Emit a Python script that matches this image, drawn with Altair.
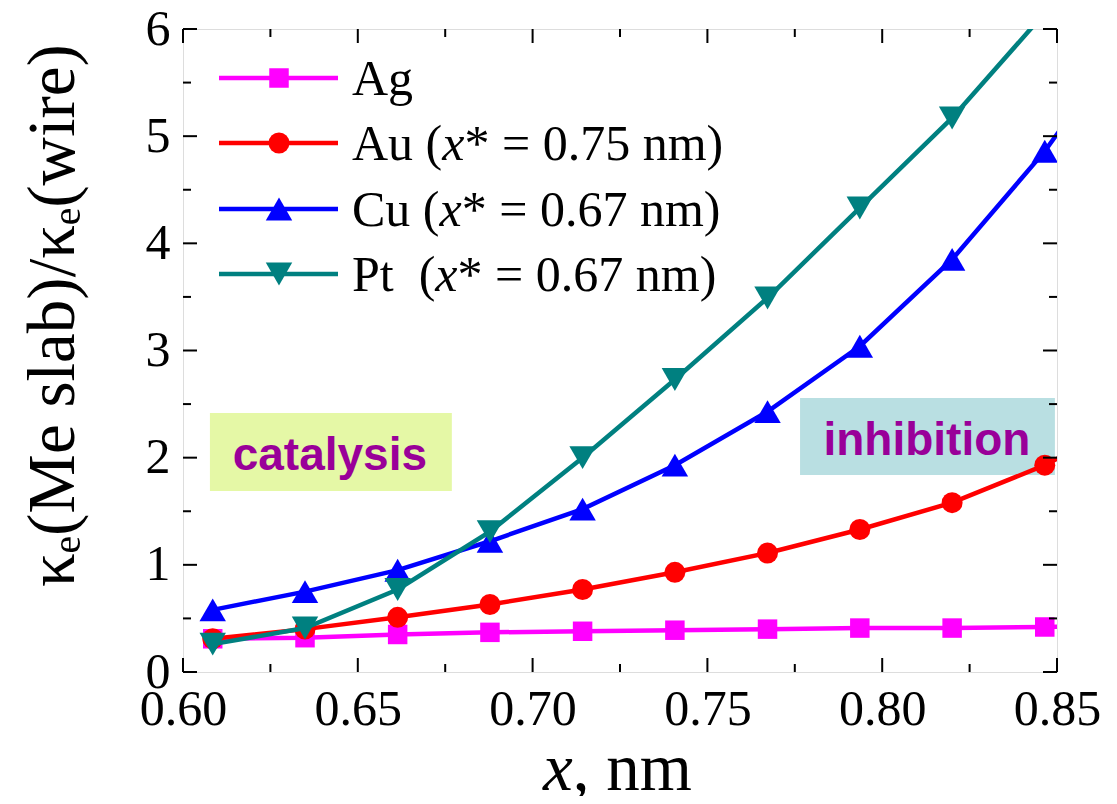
import altair as alt
import pandas as pd

# ---------------- data ----------------
series_names = ["Ag", "Au", "Cu", "Pt"]
series_colors = ["#ff00ff", "#ff0000", "#0000ff", "#008080"]
series_shapes = ["square", "circle", "triangle-up", "triangle-down"]
marker_sizes = [380, 440, 700, 700]

x_nm = [0.6085, 0.6349, 0.6614, 0.6878, 0.7143, 0.7407, 0.7672, 0.7936, 0.8200, 0.8465, 0.8729]
ag = [0.31, 0.32, 0.35, 0.37, 0.38, 0.39, 0.40, 0.41, 0.41, 0.42, 0.43]
au = [0.31, 0.40, 0.51, 0.63, 0.77, 0.93, 1.11, 1.33, 1.58, 1.93, 2.38]
cu = [0.58, 0.75, 0.95, 1.22, 1.52, 1.93, 2.43, 3.04, 3.85, 4.86, 6.05]
pt = [0.26, 0.41, 0.77, 1.31, 2.00, 2.73, 3.49, 4.33, 5.17, 6.15, 7.30]

x_major = [0.60, 0.65, 0.70, 0.75, 0.80, 0.85]
x_minor = [0.625, 0.675, 0.725, 0.775, 0.825]
y_major = [0, 1, 2, 3, 4, 5, 6]
y_minor = [0.5, 1.5, 2.5, 3.5, 4.5, 5.5]

legend_rest = ["", "* = 0.75 nm)", "* = 0.67 nm)", "* = 0.67 nm)"]
legend_head = ["Ag", "Au (", "Cu (", "Pt\u00a0 ("]

region_labels = ["catalysis", "inhibition"]

# ---------------- layout constants ----------------
W, H = 874, 643
XMIN, XMAX = 0.60, 0.85
PX_PER_X = W / (XMAX - XMIN)
PX_PER_Y = H / 6.0
SERIF = "Liberation Serif"
SANS = "Liberation Sans"

rows = []
for name, vals in zip(series_names, [ag, au, cu, pt]):
    for xv, yv in zip(x_nm, vals):
        rows.append({"x": xv, "y": yv, "series": name})
df = pd.DataFrame(rows)

xs = alt.Scale(domain=[XMIN, XMAX], nice=False, zero=False)
ys = alt.Scale(domain=[0, 6], nice=False, zero=True)
x_axis = alt.Axis(values=x_major, format=".2f", title=None, grid=False, ticks=False,
                  domain=False, labelFont=SERIF, labelFontSize=50, labelColor="black",
                  labelPadding=12, labelFlush=False)
y_axis = alt.Axis(values=y_major, format="d", title="κₑ(Me slab)/κₑ(wire)", grid=False,
                  ticks=False, domain=False, labelFont=SERIF, labelFontSize=50,
                  labelColor="black", labelPadding=13, labelFlush=False,
                  titleFont=SERIF, titleFontSize=67, titleFontWeight="normal",
                  titleColor="black", titleAngle=270, titleX=-110, titleY=286,
                  titleAlign="center", titleBaseline="alphabetic")


def X(field):
    return alt.X(field, type="quantitative", scale=xs, axis=x_axis)


def Y(field):
    return alt.Y(field, type="quantitative", scale=ys, axis=y_axis)


color = alt.Color("series:N", scale=alt.Scale(domain=series_names, range=series_colors), legend=None)

# ---------------- region boxes ----------------
boxes = pd.DataFrame({
    "label": region_labels,
    "x1": [0.6077, 0.7765], "x2": [0.6769, 0.8494],
    "y1": [1.689, 1.838], "y2": [2.417, 2.557],
    "fill": ["#e5f8a6", "#b9dfe2"],
    "tx": [0.6420, 0.8128], "ty": [1.885, 2.025],
})
box_layer = alt.Chart(boxes).mark_rect().encode(
    x=X("x1"), x2="x2", y=Y("y1"), y2="y2", fill=alt.Fill("fill:N", scale=None))
box_text = alt.Chart(boxes).mark_text(font=SANS, fontWeight="bold", fontSize=46,
                                      color="#990099", align="center",
                                      baseline="alphabetic").encode(
    x=X("tx"), y=Y("ty"), text="label:N")

# ---------------- data series ----------------
series_layers = []
for name, col, shp, sz in zip(series_names, series_colors, series_shapes, marker_sizes):
    base = alt.Chart(df).transform_filter(alt.datum.series == name)
    series_layers.append(base.mark_line(strokeWidth=4.5, clip=True, color=col).encode(
        x=X("x"), y=Y("y")))
    series_layers.append(base.mark_point(filled=True, opacity=1, clip=True, color=col,
                                         shape=shp, size=sz).encode(x=X("x"), y=Y("y")))

# ---------------- inward ticks on all four sides ----------------
tick_layers = []
for vals, ln in [(x_major, 14), (x_minor, 8)]:
    d = pd.DataFrame({"v": vals})
    tick_layers.append(alt.Chart(d).mark_rule(color="black", strokeWidth=2).encode(
        x=X("v"), y=alt.value(H), y2=alt.value(H - ln)))
    tick_layers.append(alt.Chart(d).mark_rule(color="black", strokeWidth=2).encode(
        x=X("v"), y=alt.value(0), y2=alt.value(ln)))
for vals, ln in [(y_major, 14), (y_minor, 8)]:
    d = pd.DataFrame({"v": vals})
    tick_layers.append(alt.Chart(d).mark_rule(color="black", strokeWidth=2).encode(
        y=Y("v"), x=alt.value(0), x2=alt.value(ln)))
    tick_layers.append(alt.Chart(d).mark_rule(color="black", strokeWidth=2).encode(
        y=Y("v"), x=alt.value(W), x2=alt.value(W - ln)))

# ---------------- legend (inside, top-left) ----------------
def px_to_x(px):
    return XMIN + (px - 183) / PX_PER_X


def py_to_y(py):
    return (672 - py) / PX_PER_Y


row_py = [78, 143, 209, 274]
leg = pd.DataFrame({
    "series": series_names,
    "x0": [px_to_x(219)] * 4, "x1": [px_to_x(338)] * 4, "xm": [px_to_x(279)] * 4,
    "y": [py_to_y(p) for p in row_py],
})
leg_lines = alt.Chart(leg).mark_rule(strokeWidth=4.5).encode(
    x=X("x0"), x2="x1", y=Y("y"), color=color)
leg_pts = []
for name, col, shp, sz in zip(series_names, series_colors, series_shapes, marker_sizes):
    leg_pts.append(alt.Chart(leg).transform_filter(alt.datum.series == name).mark_point(
        filled=True, opacity=1, color=col, shape=shp, size=sz).encode(x=X("xm"), y=Y("y")))

FS = 50
head_em = [0, 1.805, 1.75, 1.667]
text_px = 352
normal_rows, italic_rows = [], []
for i, name in enumerate(series_names):
    by = py_to_y(row_py[i] + 17)
    normal_rows.append({"x": px_to_x(text_px), "y": by, "t": legend_head[i]})
    if legend_rest[i]:
        xi = text_px + head_em[i] * FS
        italic_rows.append({"x": px_to_x(xi), "y": by, "t": "x"})
        normal_rows.append({"x": px_to_x(xi + 0.444 * FS), "y": by, "t": legend_rest[i]})
leg_txt = alt.Chart(pd.DataFrame(normal_rows)).mark_text(
    font=SERIF, fontSize=FS, align="left", baseline="alphabetic", color="black").encode(
    x=X("x"), y=Y("y"), text="t:N")
leg_itx = alt.Chart(pd.DataFrame(italic_rows)).mark_text(
    font=SERIF, fontSize=FS, fontStyle="italic", align="left", baseline="alphabetic",
    color="black").encode(x=X("x"), y=Y("y"), text="t:N")

# ---------------- x-axis title "x, nm" ----------------
TFS = 67
split_px = 543 + 0.444 * TFS - 183
xt1 = alt.Chart(pd.DataFrame({"t": ["x"]})).mark_text(
    font=SERIF, fontSize=TFS, fontStyle="italic", align="right", baseline="alphabetic",
    color="black").encode(x=alt.value(split_px), y=alt.value(790 - 29), text="t:N")
xt2 = alt.Chart(pd.DataFrame({"t": [", nm"]})).mark_text(
    font=SERIF, fontSize=TFS, align="left", baseline="alphabetic",
    color="black").encode(x=alt.value(split_px), y=alt.value(790 - 29), text="t:N")

chart = alt.layer(
    box_layer, box_text, *series_layers, *tick_layers,
    leg_lines, *leg_pts, leg_txt, leg_itx, xt1, xt2
).properties(
    width=W, height=H,
    autosize=alt.AutoSizeParams(type="none"),
    padding={"left": 175, "top": 21, "right": 52, "bottom": 124},
).configure_view(stroke="black", strokeWidth=2.5).configure(background="white")

chart.save("out.html", embed_options={"renderer": "svg", "actions": False})
